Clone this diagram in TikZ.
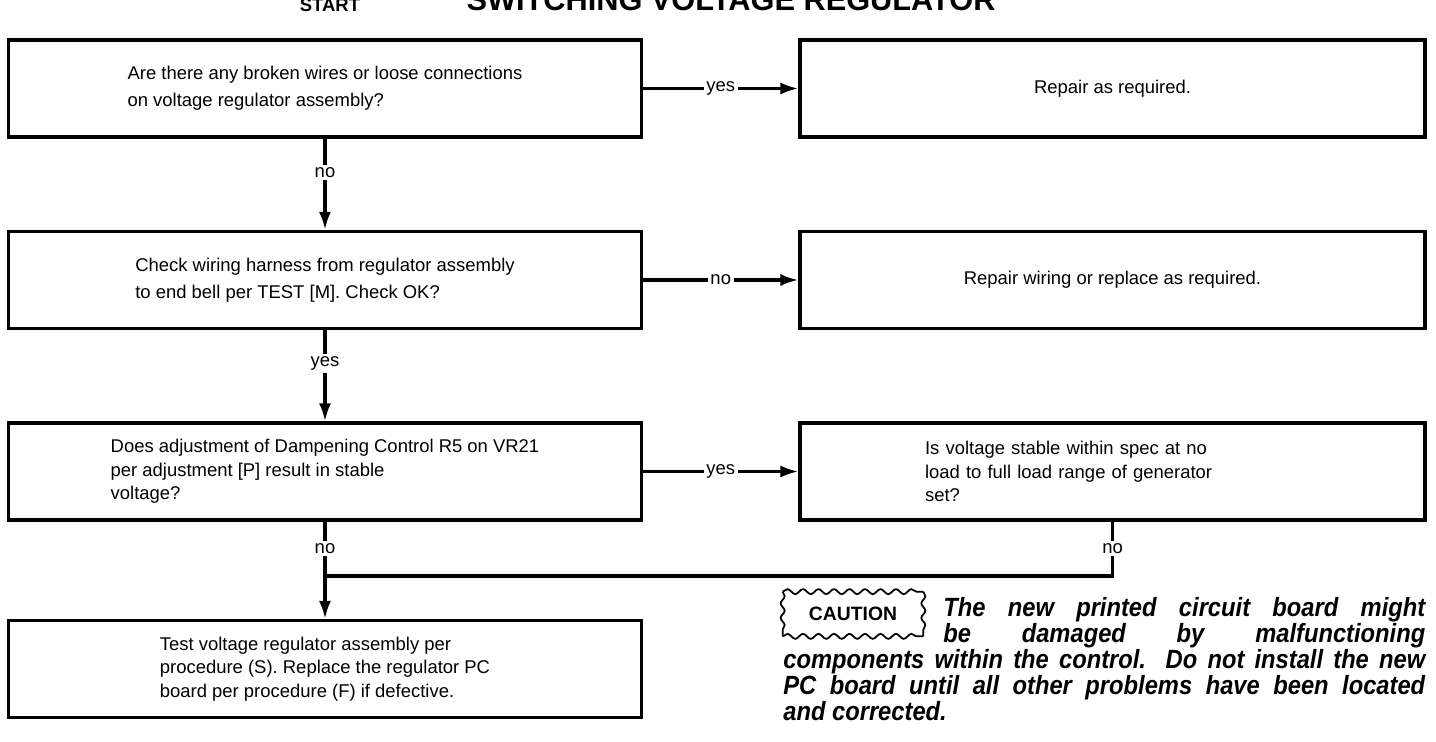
\documentclass[tikz,border=0pt]{standalone}
\usepackage{fontspec}
\setmainfont{Liberation Sans}
\newfontfamily\notefont{Liberation Sans}[FakeStretch=0.9]
\usetikzlibrary{arrows.meta,decorations.pathmorphing}

\tikzset{
  box/.style={draw, line width=1.8pt, minimum width=12.66cm, minimum height=1.94cm,
    align=left, font=\fontsize{10.5}{13.5}\selectfont},
  wide/.style={box, minimum width=12.5cm},
  flow/.style={line width=1.8pt, -{Latex[length=0.36cm, width=0.24cm]}},
  plain/.style={line width=1.8pt},
  lab/.style={fill=white, inner sep=1.5pt, font=\fontsize{10.5}{12}\selectfont},
  wavy/.style={line width=1pt, decorate, decoration={snake, segment length=0.31cm, amplitude=0.05cm}},
}

\begin{document}
\begin{tikzpicture}[x=0.02cm, y=-0.02cm]
  \useasboundingbox (0,0) rectangle (1436,742);

  \node[font=\bfseries\fontsize{17.5}{18}\selectfont, anchor=base] (title) at (731,11) {SWITCHING VOLTAGE REGULATOR};
  \node[font=\bfseries\fontsize{10.5}{12}\selectfont, anchor=base] (start) at (330,12) {START};

  % left column
  \node[box] (q1) at (325,88.5) {Are there any broken wires or loose connections\\[2pt]on voltage regulator assembly?};
  \node[box] (q2) at (325,280) {Check wiring harness from regulator assembly\\[2pt]to end bell per TEST [M]. Check OK?};
  \node[box] (q3) at (325,471.5) {Does adjustment of Dampening Control R5 on VR21\\per adjustment [P] result in stable\\voltage?};
  \node[box] (q4) at (325,669) {Test voltage regulator assembly per\\procedure (S). Replace the regulator PC\\board per procedure (F) if defective.};

  % right column
  \node[wide] (a1) at (1112.5,88.5) {Repair as required.};
  \node[wide] (a2) at (1112.5,280) {Repair wiring or replace as required.};
  \node[wide, text width=7.5cm] (a3) at (1112.5,471.5) {Is voltage stable within spec at no\\load to full load range of generator\\set?};

  \draw[flow] (q1.east) -- (a1.west) node[lab, midway] {yes};
  \draw[flow] (q2.east) -- (a2.west) node[lab, midway] {no};
  \draw[flow] (q3.east) -- (a3.west) node[lab, midway] {yes};

  \draw[flow] (q1.south) -- (q2.north) node[lab, pos=0.37] {no};
  \draw[flow] (q2.south) -- (q3.north) node[lab, pos=0.37] {yes};

  \coordinate (join) at (325,576);
  \draw[plain] (a3.south) -- (a3.south |- join) node[lab, midway] {no} -- (join);
  \draw[plain] (q3.south) -- (join) node[lab, midway] {no};
  \draw[flow] (join) -- (q4.north);

  % caution note
  \node[font=\bfseries\fontsize{11}{12}\selectfont, minimum width=2.8cm, minimum height=0.88cm] (caution) at (853,614) {CAUTION};
  \draw[wavy] (caution.north west) -- (caution.north east);
  \draw[wavy] (caution.south west) -- (caution.south east);
  \draw[wavy, decoration={segment length=0.29cm, amplitude=0.04cm}] (caution.north west) -- (caution.south west);
  \draw[wavy, decoration={segment length=0.29cm, amplitude=0.04cm}] (caution.north east) -- (caution.south east);

  \node[anchor=north west, inner sep=0pt, font=\notefont\bfseries\itshape\fontsize{15}{14.8}\selectfont] (note) at (783,597)
    {\parbox[t]{12.84cm}{\hbadness=10000 \parshape 3 3.2cm 9.64cm 3.2cm 9.64cm 0cm 12.84cm
     The new printed circuit board might\linebreak be damaged by malfunctioning\linebreak
     components within the control. Do not install the new\linebreak
     PC board until all other problems have been located\linebreak and corrected.}};
\end{tikzpicture}
\end{document}
